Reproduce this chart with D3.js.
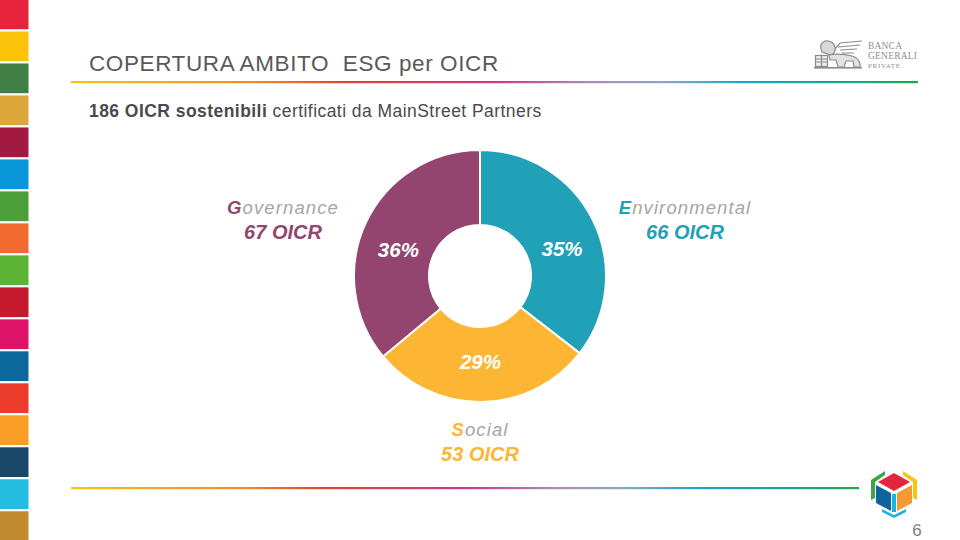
<!DOCTYPE html>
<html>
<head>
<meta charset="utf-8">
<script src="https://cdn.jsdelivr.net/npm/d3@7"></script>
<style>
  body { margin: 0; background: #fff; }
  svg { display: block; font-family: "Liberation Sans", Arial, sans-serif; }
</style>
</head>
<body>
<svg id="chart" width="960" height="540"></svg>
<script>
// data
const categories = ["Environmental", "Social", "Governance"];
const oicrCounts = [66, 53, 67];
const percentLabels = ["35%", "29%", "36%"];
const sliceColors = ["#21A1B7", "#FDB633", "#93446F"];

const sdgColors = ["#E5243B", "#FCC30B", "#3F7E44", "#DDA63A", "#A21942", "#0A97D9",
  "#4C9F38", "#F26A2E", "#5DB335", "#C5192D", "#DD1367", "#0A689D", "#EB3C2B",
  "#F99D26", "#19486A", "#26BDE2", "#BF8B2E"];

const W = 960, H = 540;
const CX = 480, CY = 276;
const R_OUT = 126, R_IN = 51;

// where the outside labels sit (layout only)
const LABEL_POS = {
  Environmental: [685, 214],
  Social: [480, 436],
  Governance: [283, 214]
};
// the slide nudges the % labels off the centroid a bit
const PCT_NUDGE = { Environmental: [3, 19], Social: [-1, 5], Governance: [-2, 18] };

const svg = d3.select("#chart");
const defs = svg.append("defs");

//rainbow rule used top and bottom
const grad = defs.append("linearGradient").attr("id", "rule");
[["0%", "#F9C30F"], ["22%", "#F28A28"], ["32%", "#E8402F"], ["50%", "#D2338A"],
 ["62%", "#A88FC0"], ["70%", "#8CA6CB"], ["80%", "#14A6CA"], ["90%", "#16A69A"], ["100%", "#1DA74A"]]
  .forEach(s => grad.append("stop").attr("offset", s[0]).attr("stop-color", s[1]));

// SDG strip on the left
const sdgY = d3.scaleBand().domain(d3.range(sdgColors.length)).range([-0.5, 541]).paddingInner(0.07);
svg.append("g").selectAll("rect")
  .data(sdgColors)
  .join("rect")
  .attr("x", 0)
  .attr("y", (d, i) => sdgY(i))
  .attr("width", 28.5)
  .attr("height", sdgY.bandwidth())
  .attr("fill", d => d);

// title (wide gap before ESG like on the slide)
svg.append("text")
  .attr("x", 89).attr("y", 71)
  .attr("font-size", 22.5)
  .attr("fill", "#595959")
  .attr("letter-spacing", 0.6)
  .text("COPERTURA AMBITO\u00a0 ESG per OICR");

svg.append("rect").attr("x", 71).attr("y", 81).attr("width", 847).attr("height", 2.2).attr("fill", "url(#rule)");
svg.append("rect").attr("x", 71).attr("y", 487).attr("width", 788).attr("height", 2.2).attr("fill", "url(#rule)");

// subtitle
const sub = svg.append("text")
  .attr("x", 89).attr("y", 117)
  .attr("font-size", 17.5)
  .attr("letter-spacing", 0.45)
  .attr("fill", "#4a4a4a");
sub.append("tspan").attr("font-weight", "bold").text("186 OICR sostenibili");
sub.append("tspan").text(" certificati da MainStreet Partners");

// Banca Generali logo (rough winged lion)
const logo = svg.append("g").attr("stroke", "#8c8c8c").attr("fill", "none").attr("stroke-width", 1.2);
// wings
logo.append("path").attr("d", "M834,50 L840,43 L862,41 M838,47 L860,45 M840,50 L857,49 M842,53 L854,53");
// head + mane
logo.append("path").attr("fill", "#d8d8d8")
  .attr("d", "M822,52 Q818,44 825,41 Q833,40 835,47 Q836,53 831,55 Z");
// body
logo.append("path").attr("fill", "#e2e2e2")
  .attr("d", "M829,55 Q840,53 852,56 Q859,58 860,64 L860,67 L854,67 L853,61 L846,61 L844,67 L838,67 L836,60 L830,60 Z");
// book
logo.append("rect").attr("x", 815.5).attr("y", 55.5).attr("width", 12).attr("height", 11).attr("fill", "#ececec");
logo.append("path").attr("d", "M816,59 L827,59 M816,62 L827,62 M821.5,56 L821.5,66");
logo.append("rect").attr("x", 814).attr("y", 67).attr("width", 48).attr("height", 1.6).attr("fill", "#8c8c8c").attr("stroke", "none");

const logoText = svg.append("g").attr("font-family", "'Liberation Serif', serif").attr("fill", "#8f8f8f");
logoText.append("text").attr("x", 868).attr("y", 49).attr("font-size", 9.5).attr("textLength", 34).text("BANCA");
logoText.append("text").attr("x", 868).attr("y", 58.5).attr("font-size", 9.5).attr("textLength", 49).text("GENERALI");
logoText.append("text").attr("x", 868).attr("y", 68).attr("font-size", 7).attr("textLength", 32).text("PRIVATE");

// donut
const pie = d3.pie().sort(null).value(d => d.value);
const arcs = pie(categories.map((c, i) => ({ key: c, value: oicrCounts[i], color: sliceColors[i], pct: percentLabels[i] })));
const arc = d3.arc().innerRadius(R_IN).outerRadius(R_OUT);
const labelArc = d3.arc().innerRadius(88).outerRadius(88);

const chart = svg.append("g").attr("transform", `translate(${CX},${CY})`);
chart.selectAll("path")
  .data(arcs)
  .join("path")
  .attr("d", arc)
  .attr("fill", d => d.data.color)
  .attr("stroke", "#fff")
  .attr("stroke-width", 2);

chart.selectAll("text.pct")
  .data(arcs)
  .join("text")
  .attr("class", "pct")
  .attr("transform", d => {
    const c = labelArc.centroid(d);
    const n = PCT_NUDGE[d.data.key];
    return `translate(${c[0] + n[0]},${c[1] + n[1]})`;
  })
  .attr("text-anchor", "middle")
  .attr("font-size", 20.5)
  .attr("font-weight", "bold")
  .attr("font-style", "italic")
  .attr("fill", "#fff")
  .text(d => d.data.pct);

// category labels outside
const lab = svg.append("g").selectAll("g")
  .data(arcs)
  .join("g")
  .attr("transform", d => `translate(${LABEL_POS[d.data.key][0]},${LABEL_POS[d.data.key][1]})`)
  .attr("text-anchor", "middle")
  .attr("font-style", "italic");

const nameLine = lab.append("text")
  .attr("font-size", 18.5)
  .attr("letter-spacing", 1.1)
  .attr("fill", "#A6A6A6");
nameLine.append("tspan").attr("font-weight", "bold").attr("fill", d => d.data.color).text(d => d.data.key[0]);
nameLine.append("tspan").text(d => d.data.key.slice(1));

lab.append("text")
  .attr("y", 25)
  .attr("font-size", 20)
  .attr("font-weight", "bold")
  .attr("fill", d => d.data.color)
  .text(d => `${d.data.value} OICR`);

// little cube logo bottom right
const cube = svg.append("g").attr("transform", "translate(894,490)");
cube.append("polygon").attr("points", "-23,-10 -9,-19 -9,-15 -19,-8 -19,8 -23,10").attr("fill", "#3DA644");
cube.append("polygon").attr("points", "23,-10 9,-19 9,-15 19,-8 19,8 23,10").attr("fill", "#F9C30F");
cube.append("polygon").attr("points", "-12,19 0,25 12,19 12,22 0,28 -12,22").attr("fill", "#1BB4E0");
cube.append("polygon").attr("points", "0,-17 16,-8 0,1 -16,-8").attr("fill", "#E4263D");
cube.append("polygon").attr("points", "-18,-5 -3,3 -3,21 -18,13").attr("fill", "#0D649E");
cube.append("polygon").attr("points", "18,-5 3,3 3,21 18,13").attr("fill", "#F59A32");
cube.append("polygon").attr("points", "-2,4 2,4 2,22 -2,22").attr("fill", "#1BB4E0");

// page number
svg.append("text")
  .attr("x", 917).attr("y", 536)
  .attr("text-anchor", "middle")
  .attr("font-size", 17)
  .attr("fill", "#7f7f7f")
  .text("6");
</script>
</body>
</html>
